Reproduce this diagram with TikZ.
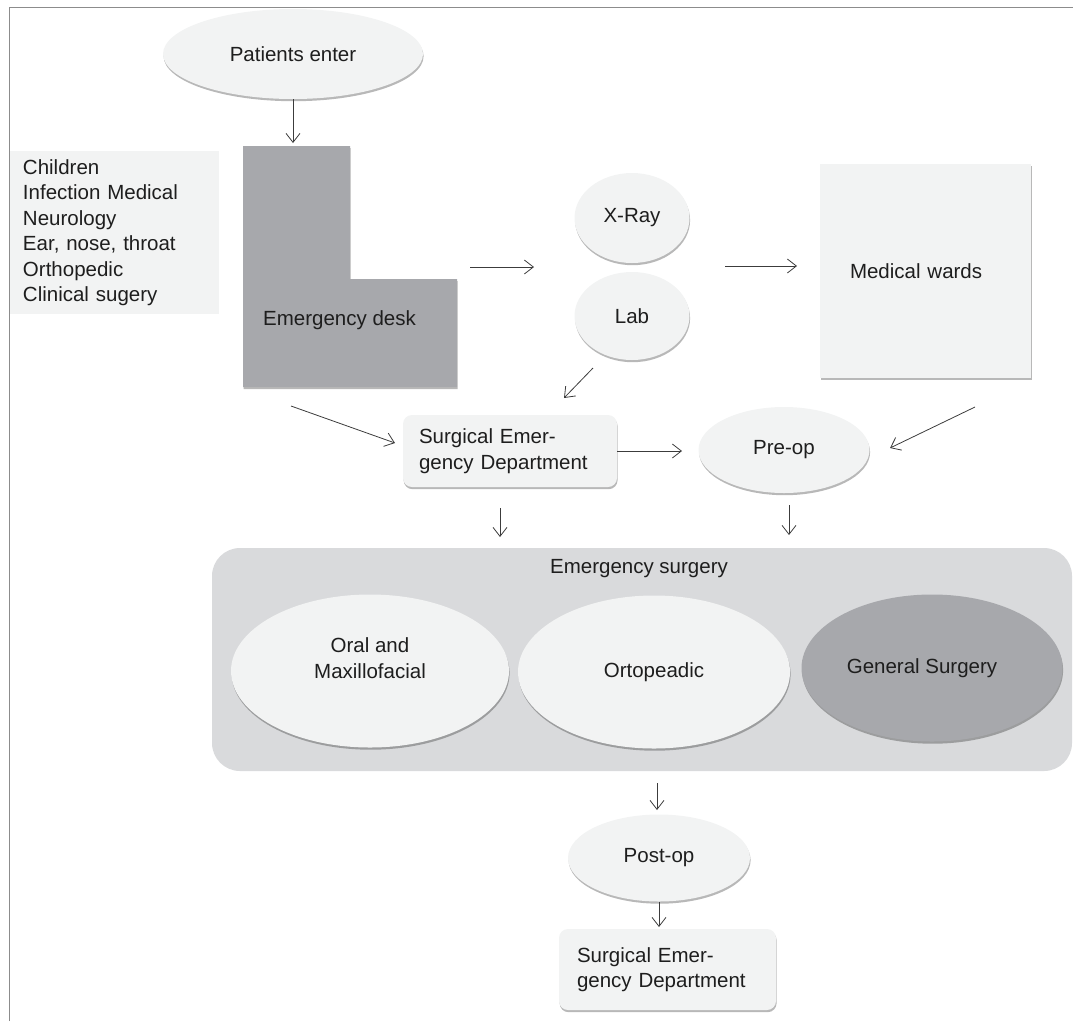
\documentclass[tikz,border=0pt]{standalone}
\usepackage{fontspec}
\setmainfont{Liberation Sans}
\usetikzlibrary{shapes.geometric,arrows.meta,shadows}
\definecolor{lightfill}{HTML}{F2F3F3}
\definecolor{darkfill}{HTML}{A7A8AC}
\definecolor{boxfill}{HTML}{D9DADC}
\definecolor{linec}{HTML}{3C3C3C}
\definecolor{framec}{HTML}{8C8C8C}
\definecolor{textc}{HTML}{1E1E1E}
\begin{document}
\begin{tikzpicture}[x=1pt,y=-1pt,
  font=\fontsize{20.5}{25.5}\selectfont, text=textc,
  softshadow/.style={drop shadow={shadow xshift=0.6pt,shadow yshift=-2.2pt,opacity=0.28,fill=black}},
  oval/.style={ellipse,fill=lightfill,inner sep=0pt,softshadow},
  roundbox/.style={rectangle,rounded corners=9pt,fill=lightfill,softshadow,align=left,inner xsep=0pt},
  arr/.style={draw=linec,line width=0.8pt,-{Straight Barb[length=9pt,width=14pt,line width=0.8pt]}},
]
\useasboundingbox (0,0) rectangle (1073,1021);
% frame
\draw[framec,line width=1pt] (9,1021) -- (9,7) -- (1073,7);

% left list
\node (list) [rectangle,fill=lightfill,minimum width=209pt,minimum height=163pt,
  text width=183pt,align=left,inner xsep=13pt,inner ysep=0pt] at (114.5,232.5)
  {Children\\Infection Medical\\Neurology\\Ear, nose, throat\\Orthopedic\\Clinical sugery};

% patients enter
\node (patients) [oval,minimum width=260pt,minimum height=90pt] at (293,54) {Patients enter};

% emergency desk L shape
\fill[darkfill,softshadow] (243,146) -- (350,146) -- (350,279) -- (457,279) -- (457,387) -- (243,387) -- cycle;
\node (desk) [anchor=base west,inner sep=0pt] at (263,325) {Emergency desk};

% x-ray and lab
\node (xray) [oval,minimum width=115pt,minimum height=90pt] at (632,218) {X-Ray};
\node (lab) [oval,minimum width=115pt,minimum height=88pt] at (632,316) {Lab};

% medical wards
\node (wards) [rectangle,fill=lightfill,softshadow,minimum width=211pt,minimum height=214pt,
  text width=151pt,align=left,inner xsep=0pt] at (925.5,271) {Medical wards};

% surgical emergency department (top)
\node (sed) [roundbox,minimum width=214pt,minimum height=72pt,text width=182pt] at (510,451)
  {Surgical Emer-\\gency Department};

% pre-op
\node (preop) [oval,minimum width=171pt,minimum height=86pt] at (784,450) {Pre-op};

% emergency surgery block
\node (surg) [rectangle,rounded corners=28pt,fill=boxfill,minimum width=860pt,minimum height=223pt] at (642,659.5) {};
\node (surgtitle) [anchor=base,inner sep=0pt] at (639,573) {Emergency surgery};
\node (oral) [oval,minimum width=278pt,minimum height=153pt,
  label={[yshift=13pt,align=center,name=oraltext]center:Oral and\\Maxillofacial}] at (370,671) {};
\node (orto) [oval,minimum width=272pt,minimum height=153pt] at (654,672) {Ortopeadic};
\node (general) [ellipse,fill=darkfill,inner sep=0pt,softshadow,minimum width=261pt,minimum height=147pt,
  label={[xshift=-10pt,name=generaltext]center:General Surgery}] at (932,668) {};

% post-op
\node (postop) [oval,minimum width=182pt,minimum height=87pt] at (659,858) {Post-op};

% surgical emergency department (bottom)
\node (sed2) [roundbox,minimum width=217pt,minimum height=81pt,text width=181pt] at (667.5,969.5)
  {Surgical Emer-\\gency Department};

% connector end points
\coordinate (deskIn) at (293,143);
\coordinate (deskOut) at (470,267);
\coordinate (xlIn) at (534,267);
\coordinate (xlOut) at (725,266);
\coordinate (wardsIn) at (797,266);
\coordinate (labOut) at (593,368);
\coordinate (sedInA) at (564,398);
\coordinate (deskOutB) at (291,406);
\coordinate (sedInB) at (395,443);
\coordinate (preIn) at (682,451);
\coordinate (wardsOut) at (975,407);
\coordinate (preInB) at (890,448);
\coordinate (sedOut) at (500,508);
\coordinate (surgInA) at (500,537);
\coordinate (preOut) at (789,505);
\coordinate (surgInB) at (789,535);
\coordinate (surgOut) at (657,783);
\coordinate (postIn) at (657,810);
\coordinate (sed2In) at (659,927);

% connectors
\draw[arr] (patients) -- (deskIn);
\draw[arr] (deskOut) -- (xlIn);
\draw[arr] (xlOut) -- (wardsIn);
\draw[arr] (labOut) -- (sedInA);
\draw[arr] (deskOutB) -- (sedInB);
\draw[arr] (sed.east) -- (preIn);
\draw[arr] (wardsOut) -- (preInB);
\draw[arr] (sedOut) -- (surgInA);
\draw[arr] (preOut) -- (surgInB);
\draw[arr] (surgOut) -- (postIn);
\draw[arr] (postop) -- (sed2In);
\end{tikzpicture}
\end{document}
